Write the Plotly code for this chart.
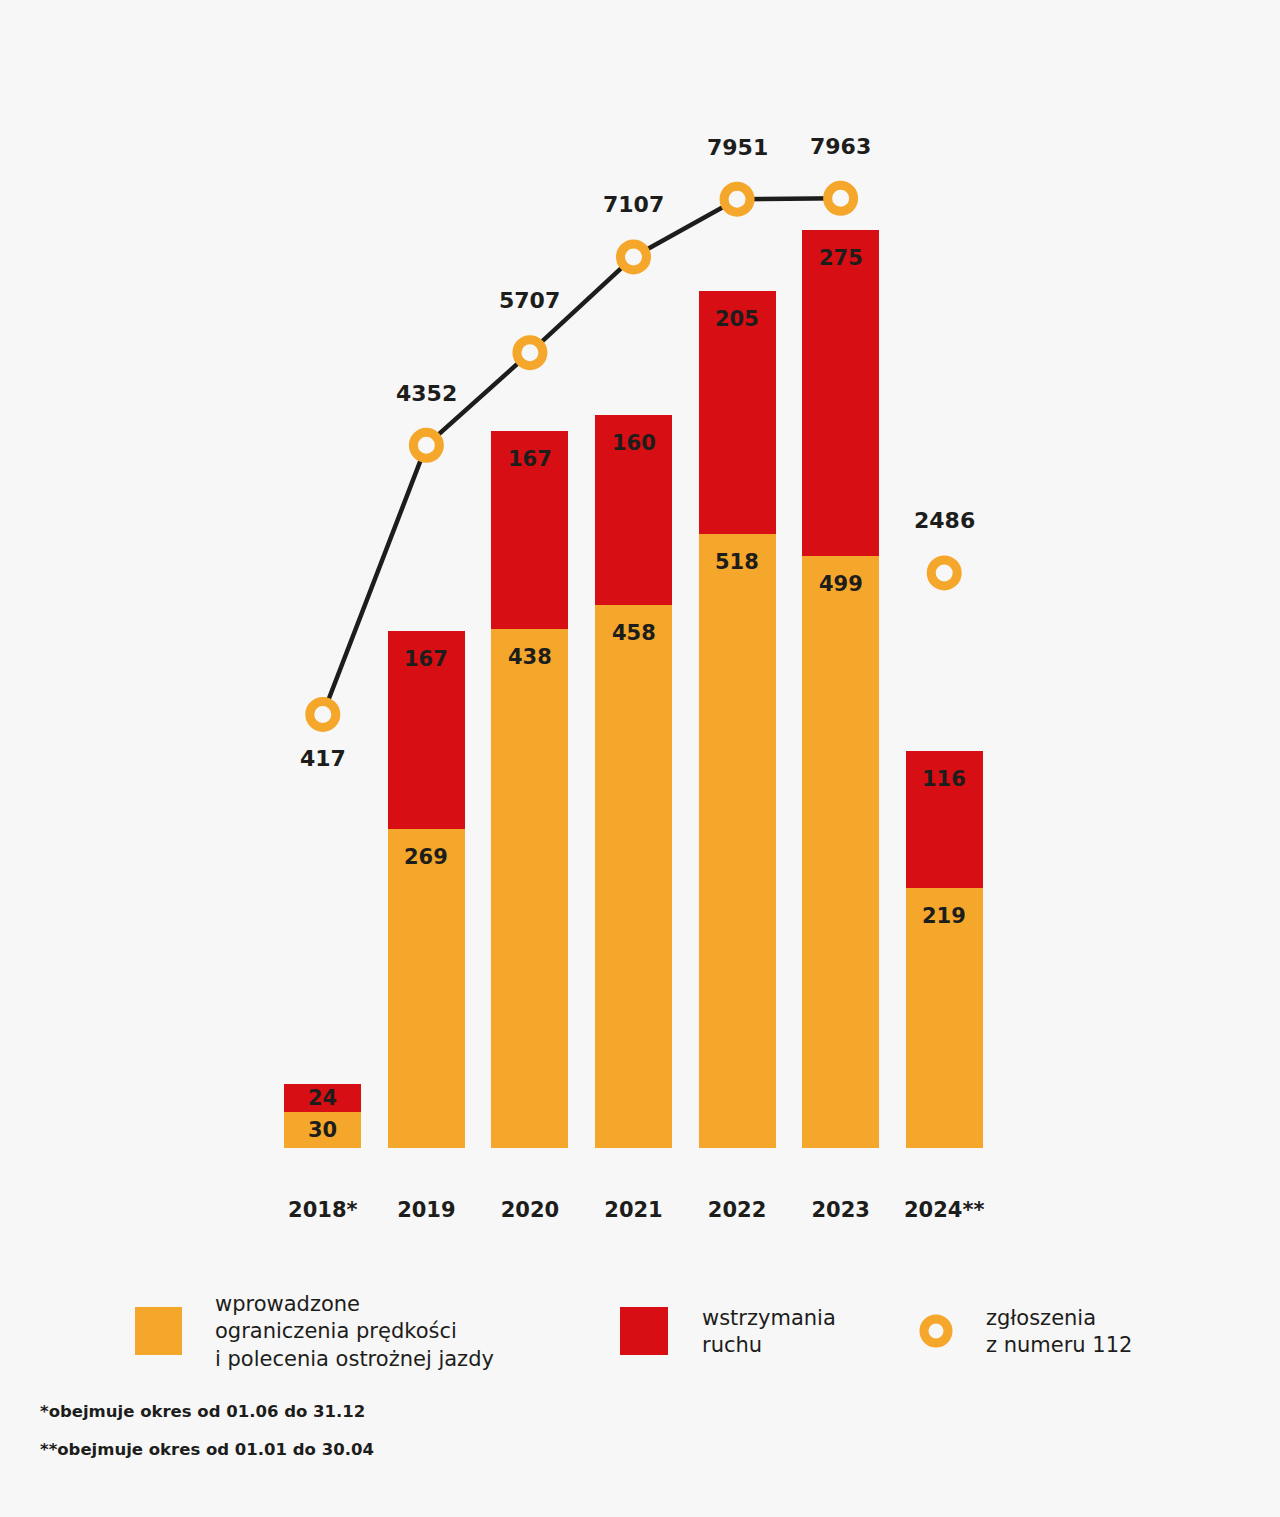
import plotly.graph_objects as go

years = ["2018*", "2019", "2020", "2021", "2022", "2023", "2024**"]
speed_limits = [30, 269, 438, 458, 518, 499, 219]
traffic_stops = [24, 167, 167, 160, 205, 275, 116]
calls_112 = [417, 4352, 5707, 7107, 7951, 7963, 2486]

legend_labels = [
    ["wprowadzone", "ograniczenia prędkości", "i polecenia ostrożnej jazdy"],
    ["wstrzymania", "ruchu"],
    ["zgłoszenia", "z numeru 112"],
]
footnotes = ["*obejmuje okres od 01.06 do 31.12", "**obejmuje okres od 01.01 do 30.04"]

ORANGE = "#F5A72C"
RED = "#D80E15"
DARK = "#1d1d1b"
BG = "#F7F7F7"
FONT = "DejaVu Sans"

W, H = 1280, 1517
L, R, T, B = 271, 996, 100, 1148
Y1_MAX = 884
Y2_RANGE = [-5921, 9401]


def pxx(x):
    return (x - L) / (R - L)


def pxy(y):
    return (B - y) / (B - T)


fig = go.Figure()
fig.add_bar(x=years, y=speed_limits, marker=dict(color=ORANGE, line=dict(width=0)),
            hoverinfo="skip")
fig.add_bar(x=years, y=traffic_stops, marker=dict(color=RED, line=dict(width=0)),
            hoverinfo="skip")

fig.add_scatter(x=years[:6], y=calls_112[:6], yaxis="y2", mode="lines",
                line=dict(color=DARK, width=4.5), hoverinfo="skip")
fig.add_scatter(x=years, y=calls_112, yaxis="y2", mode="markers",
                marker=dict(size=26, color=BG, line=dict(color=ORANGE, width=9)),
                hoverinfo="skip")

annotations = []
px_per_unit = (B - T) / Y1_MAX
for i, yr in enumerate(years):
    o = speed_limits[i]
    r = traffic_stops[i]
    for top, val in ((o, o), (o + r, r)):
        shift = min(28, val * px_per_unit / 2)
        annotations.append(dict(x=i, y=top, xref="x", yref="y", text=str(val),
                                showarrow=False, yshift=-shift, yanchor="middle",
                                font=dict(family=FONT, size=21, color=DARK, weight="bold")))
    c = calls_112[i]
    annotations.append(dict(x=i, y=c, xref="x", yref="y2", text=str(c),
                            showarrow=False, yshift=(-44 if i == 0 else 52),
                            yanchor="middle",
                            font=dict(family=FONT, size=22, color=DARK, weight="bold")))

legend_pos = [(213, 1331), (700, 1331), (984, 1331)]
for (lx, ly), lines in zip(legend_pos, legend_labels):
    annotations.append(dict(x=pxx(lx), y=pxy(ly), xref="paper", yref="paper",
                            text="<br>".join(lines), align="left",
                            showarrow=False, xanchor="left", yanchor="middle",
                            font=dict(family=FONT, size=21, color=DARK)))

for fy, txt in zip([1412, 1449], footnotes):
    annotations.append(dict(x=pxx(38), y=pxy(fy), xref="paper", yref="paper",
                            text=txt, showarrow=False, xanchor="left", yanchor="middle",
                            font=dict(family=FONT, size=16.5, color=DARK, weight="bold")))

shapes = [
    dict(type="rect", xref="paper", yref="paper", x0=pxx(135), x1=pxx(182),
         y0=pxy(1355), y1=pxy(1307), fillcolor=ORANGE, line=dict(width=0)),
    dict(type="rect", xref="paper", yref="paper", x0=pxx(620), x1=pxx(668),
         y0=pxy(1355), y1=pxy(1307), fillcolor=RED, line=dict(width=0)),
    dict(type="circle", xref="paper", yref="paper", xsizemode="pixel", ysizemode="pixel",
         xanchor=pxx(936), yanchor=pxy(1331), x0=-12, x1=12, y0=-12, y1=12,
         fillcolor=BG, line=dict(color=ORANGE, width=9)),
]

fig.update_layout(
    width=W, height=H,
    margin=dict(l=L, r=W - R, t=T, b=H - B, pad=0),
    paper_bgcolor=BG, plot_bgcolor=BG,
    barmode="stack", bargap=0.257,
    showlegend=False,
    xaxis=dict(type="category", range=[-0.5, 6.5], showgrid=False, showline=False,
               zeroline=False, ticks="", ticklabelstandoff=47,
               tickfont=dict(family=FONT, size=21, color=DARK, weight="bold")),
    yaxis=dict(range=[0, Y1_MAX], visible=False, showgrid=False, zeroline=False),
    yaxis2=dict(range=Y2_RANGE, overlaying="y", side="right", visible=False,
                showgrid=False, zeroline=False),
    annotations=annotations,
    shapes=shapes,
)

fig.write_html("out.html", config={"displayModeBar": False},
               post_script="document.body.style.margin='0';document.body.style.background='%s';" % BG)
